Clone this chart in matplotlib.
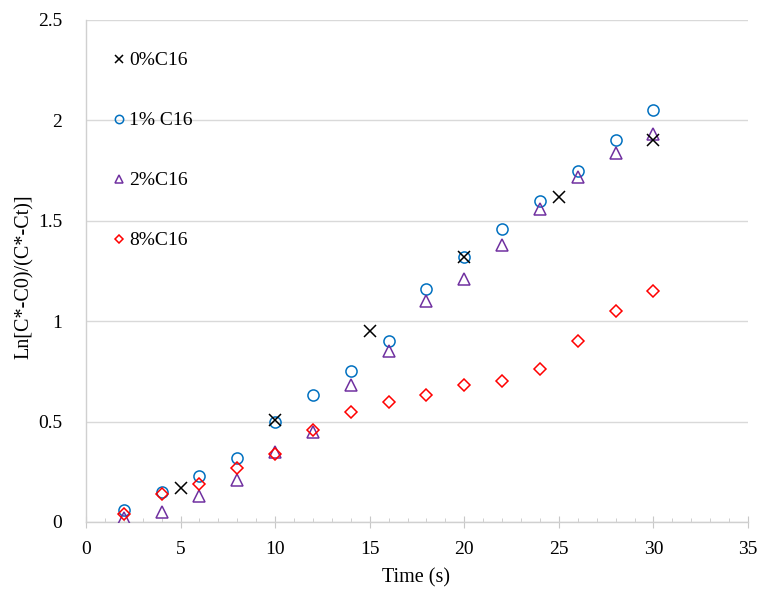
import matplotlib
matplotlib.use("Agg")
import matplotlib.pyplot as plt
from matplotlib.ticker import MultipleLocator, FuncFormatter

plt.rcParams['font.family'] = ['Liberation Serif', 'DejaVu Serif']

x0 = [5, 10, 15, 20, 25, 30]
y0 = [0.17, 0.51, 0.95, 1.32, 1.62, 1.90]

x_even = [2, 4, 6, 8, 10, 12, 14, 16, 18, 20, 22, 24, 26, 28, 30]
y1 = [0.06, 0.15, 0.23, 0.32, 0.50, 0.63, 0.75, 0.90, 1.16, 1.32, 1.46, 1.60, 1.75, 1.90, 2.05]
y2 = [0.02, 0.05, 0.13, 0.21, 0.35, 0.45, 0.68, 0.85, 1.10, 1.21, 1.38, 1.56, 1.72, 1.84, 1.93]
y8 = [0.04, 0.14, 0.19, 0.27, 0.34, 0.46, 0.55, 0.60, 0.63, 0.68, 0.70, 0.76, 0.90, 1.05, 1.15]

labels = ["0%C16", "1% C16", "2%C16", "8%C16"]

fig = plt.figure(figsize=(7.59, 5.94), dpi=100)
ax = fig.add_axes([86/759, 72/594, 662/759, 502/594])

ax.plot(x0, y0, linestyle='none', marker='x', color='black', markersize=8, markeredgewidth=1.1, label=labels[0], zorder=5)
ax.plot(x_even, y1, linestyle='none', marker='o', markerfacecolor='none', markeredgecolor='#0070C0', markersize=8, markeredgewidth=1.1, label=labels[1], zorder=3)
ax.plot(x_even, y2, linestyle='none', marker='^', markerfacecolor='none', markeredgecolor='#7030A0', markersize=8, markeredgewidth=1.1, label=labels[2], zorder=3)
ax.plot(x_even, y8, linestyle='none', marker='D', markerfacecolor='none', markeredgecolor='#FF0000', markersize=6, markeredgewidth=1.1, label=labels[3], zorder=4)

ax.set_xlim(0, 35)
ax.set_ylim(0, 2.5)
ax.xaxis.set_major_locator(MultipleLocator(5))
ax.xaxis.set_minor_locator(MultipleLocator(1))
ax.yaxis.set_major_locator(MultipleLocator(0.5))

def fmt(v, pos):
    return '%g' % v
ax.xaxis.set_major_formatter(FuncFormatter(fmt))
ax.yaxis.set_major_formatter(FuncFormatter(fmt))

for s in ['top', 'right']:
    ax.spines[s].set_visible(False)
for s in ['left', 'bottom']:
    ax.spines[s].set_color('#D0D0D0')
    ax.spines[s].set_linewidth(1.0)

ax.yaxis.grid(True, color='#D9D9D9', linewidth=1.0)
ax.set_axisbelow(True)
gl = ax.get_ygridlines()
gl[-1].set_visible(False)

ax.tick_params(axis='x', which='major', direction='inout', length=8, color='#C8C8C8', labelsize=14, pad=10)
ax.tick_params(axis='x', which='minor', direction='in', length=3, color='#C8C8C8')
ax.tick_params(axis='y', which='major', length=0, labelsize=14, pad=17)

ax.set_xlabel("Time (s)", fontsize=14.5)
ax.set_ylabel("Ln[C*-C0)/(C*-Ct)]", fontsize=14.5)
ax.xaxis.set_label_coords(0.4985, -0.1116)
ax.xaxis.label.set_va('center')
ax.yaxis.set_label_coords(-0.0937, 0.489)
ax.yaxis.label.set_va('center')

leg = ax.legend(loc='upper left', bbox_to_anchor=(0.023, 0.952), frameon=False, fontsize=14,
                labelspacing=2.18, handletextpad=0.05, handlelength=1.0, markerscale=0.75,
                borderaxespad=0)

fig.savefig("out.png", dpi=100)
